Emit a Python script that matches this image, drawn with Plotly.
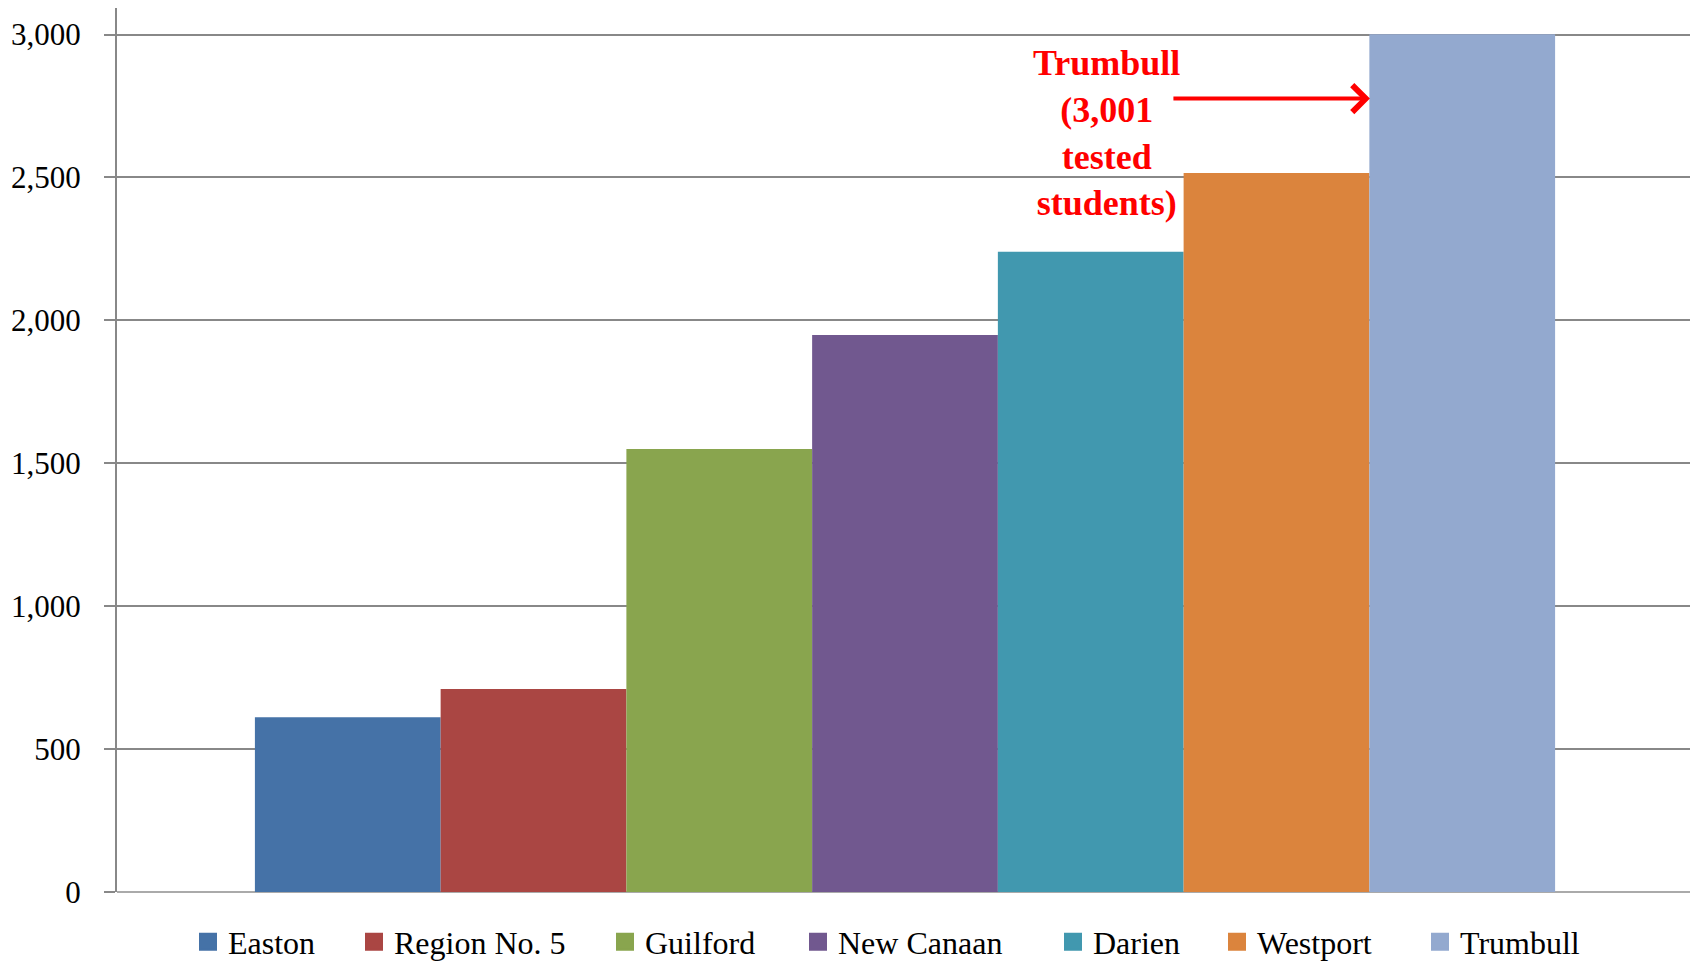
import plotly.graph_objects as go

districts = ["Easton", "Region No. 5", "Guilford", "New Canaan", "Darien", "Westport", "Trumbull"]
students_tested = [611, 710, 1550, 1949, 2240, 2516, 3001]
colors = ["#4572A7", "#AA4643", "#89A54E", "#71588F", "#4198AF", "#DB843D", "#93A9CF"]
category = ["Tested students"]
y_ticks = [0, 500, 1000, 1500, 2000, 2500, 3000]
# left edge (px, figure coords) of each legend entry, one legend per district
legend_left_px = [180, 346, 597, 790, 1045, 1209, 1412]

FONT = "Liberation Serif"
W, H = 1690, 954  # page body has an 8px margin

fig = go.Figure()
for i, (name, val, col) in enumerate(zip(districts, students_tested, colors)):
    lg = "legend" if i == 0 else f"legend{i + 1}"
    fig.add_trace(go.Bar(x=category, y=[val], name=name, showlegend=False,
                         marker=dict(color=col, line=dict(width=0))))
    fig.add_trace(go.Scatter(x=category, y=[None], name=name, mode="markers", legend=lg,
                             marker=dict(symbol="square", size=16, color=col,
                                         line=dict(color=col, width=2)),
                             showlegend=True))

layout_legends = {}
for i, px in enumerate(legend_left_px):
    key = "legend" if i == 0 else f"legend{i + 1}"
    layout_legends[key] = dict(
        orientation="h", xref="container", yref="container",
        x=px / W, xanchor="left", y=1 - 934 / H, yanchor="middle",
        font=dict(family=FONT, size=32, color="black"),
        bgcolor="rgba(0,0,0,0)", borderwidth=0, itemwidth=30,
    )

fig.update_layout(
    width=W, height=H,
    barmode="group", bargap=0.175, bargroupgap=0,
    plot_bgcolor="white", paper_bgcolor="white",
    margin=dict(l=109, r=5, t=0, b=70, autoexpand=False),
    font=dict(family=FONT, size=31, color="black"),
    showlegend=True,
    **layout_legends,
)
fig.update_yaxes(
    range=[0, 3093], tickvals=y_ticks, tickformat=",", automargin=False,
    showgrid=True, gridcolor="#888888", gridwidth=2,
    showline=True, linecolor="#888888", linewidth=2,
    ticks="outside", ticklen=11, tickcolor="#888888", tickwidth=2,
    zeroline=True, zerolinecolor="#AAAAAA", zerolinewidth=2,
    ticklabelstandoff=17,
    tickfont=dict(family=FONT, size=31, color="black"),
)
fig.update_xaxes(showticklabels=False, showgrid=False, zeroline=False, showline=False,
                 ticks="", automargin=False)

fig.add_annotation(
    x=0.628, xref="paper", y=2657, yref="y",
    text="<b>Trumbull<br>(3,001<br>tested<br>students)</b>",
    showarrow=False, font=dict(family=FONT, size=36, color="#FF0000"), align="center",
)
fig.add_annotation(
    x=0.795, xref="paper", y=2776, yref="y",
    ax=-198, ay=0, text="", showarrow=True,
    arrowhead=4, arrowsize=1.3, arrowwidth=4, arrowcolor="#FF0000",
)

fig.write_html("out.html")
